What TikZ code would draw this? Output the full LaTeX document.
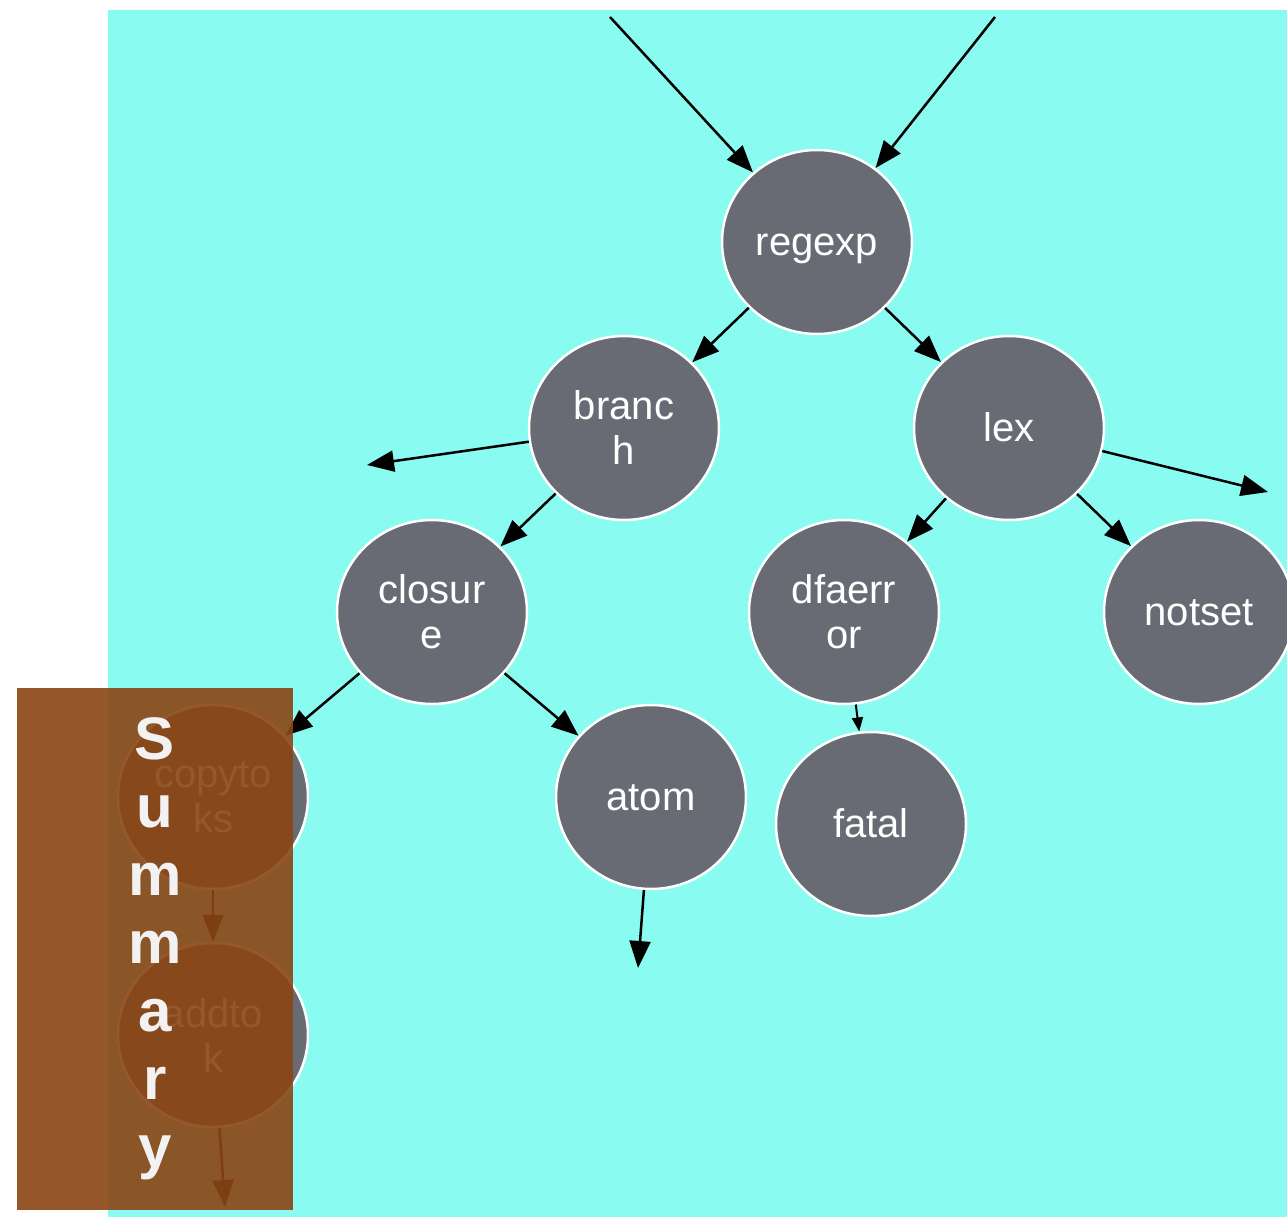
\documentclass[tikz,border=0pt]{standalone}
\usepackage{fontspec}
\setmainfont{Liberation Sans}
\usetikzlibrary{arrows.meta,shapes.geometric}
\definecolor{bgcyan}{RGB}{138,251,240}
\definecolor{nodegray}{RGB}{105,107,116}
\definecolor{summarybrown}{RGB}{139,69,19}
\tikzset{
  proc/.style={ellipse, draw=white, line width=2.5pt, fill=nodegray,
    minimum width=190pt, minimum height=184pt, inner sep=0pt,
    text=white, font=\fontsize{40}{45}\selectfont, align=center},
  oneline/.style={text height=26pt, text depth=0pt},
  link/.style={line width=2.5pt, -{Triangle[length=27pt,width=21pt]}},
  shortlink/.style={line width=2pt, -{Triangle[length=14pt,width=11pt]}},
  summarybox/.style={fill=summarybrown, fill opacity=0.9},
  summarytext/.style={text=white!95!black, font=\fontsize{60}{68}\selectfont\bfseries,
    align=center, inner sep=0pt},
}
\begin{document}
\begin{tikzpicture}[x=1pt,y=-1pt]
\useasboundingbox (0,0) rectangle (1287,1217);
\fill[bgcyan] (108,10) rectangle (1287,1217);

% call graph nodes
\node[proc, oneline] (regexp) at (817,242)  {regexp};
\node[proc] (branch)          at (624,428)  {branc\\h};
\node[proc, oneline] (lex)    at (1009,428) {lex};
\node[proc] (closure)         at (432,612)  {closur\\e};
\node[proc] (dfaerror)        at (844,612)  {dfaerr\\or};
\node[proc, oneline] (notset) at (1199,612) {notset};
\node[proc] (copytoks)        at (213,797)  {copyto\\ks};
\node[proc, oneline] (atom)   at (651,797)  {atom};
\node[proc, oneline] (fatal)  at (871,824)  {fatal};
\node[proc] (addtok)          at (213,1035) {addto\\k};

% loose ends of edges leaving the visible area
\coordinate (inA)    at (610,17);
\coordinate (inB)    at (995,17);
\coordinate (outBr)  at (367,465);
\coordinate (outLex) at (1268,492);
\coordinate (outAt)  at (638,968);
\coordinate (outAdd) at (225,1207);

% edges
\draw[link] (inA) -- (regexp);
\draw[link] (inB) -- (regexp);
\draw[link] (regexp) -- (branch);
\draw[link] (regexp) -- (lex);
\draw[link] (branch) -- (outBr);
\draw[link] (branch) -- (closure);
\draw[link] (lex) -- (outLex);
\draw[link] (lex) -- (dfaerror);
\draw[link] (lex) -- (notset);
\draw[link] (closure) -- (copytoks);
\draw[link] (closure) -- (atom);
\draw[shortlink] (dfaerror) -- (fatal);
\draw[link] (atom) -- (outAt);
\draw[link] (copytoks) -- (addtok);
\draw[link] (addtok) -- (outAdd);

% summary panel
\fill[summarybox] (17,688) rectangle (293,1210);
\node[summarytext, anchor=north] (summary) at (155,717) {S\\u\\m\\m\\a\\r\\y};
\end{tikzpicture}
\end{document}
